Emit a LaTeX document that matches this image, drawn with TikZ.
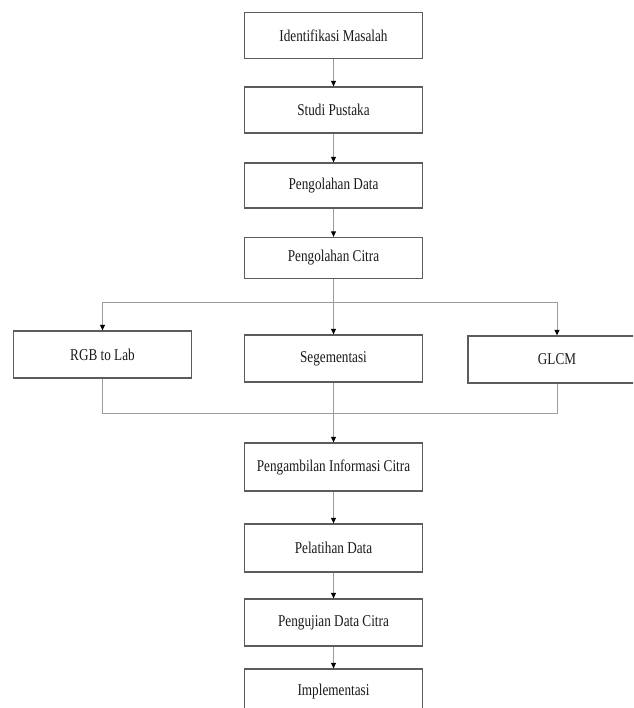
\documentclass[tikz,border=0pt]{standalone}
\usepackage{fontspec}
\setmainfont{Liberation Serif}[FakeStretch=0.8]
\usetikzlibrary{arrows.meta}
\definecolor{boxline}{HTML}{5C5C5C}
\definecolor{wire}{HTML}{9C9C9C}
\definecolor{ink}{HTML}{1A1A1A}
\begin{document}
\begin{tikzpicture}[x=1pt,y=-1pt,
  stepbox/.style={draw=boxline,line width=1.3pt,fill=white,
    minimum width=178pt,minimum height=46pt,inner sep=0pt,
    text=ink,font=\fontsize{16.5}{19}\selectfont},
  wireline/.style={draw=wire,line width=1pt},
  flow/.style={wireline,-{Triangle[length=5.5pt,width=5pt,color=black]}}]
\clip (0,0) rectangle (633,708);
\useasboundingbox (0,0) rectangle (633,708);
% main column
\node[stepbox] (idm) at (333.5,35.5) {Identifikasi Masalah};
\node[stepbox] (stp) at (333.5,110) {Studi Pustaka};
\node[stepbox,minimum height=45pt] (pgd) at (333.5,185.5) {Pengolahan Data};
\node[stepbox,minimum height=41pt] (pgc) at (333.5,258) {Pengolahan Citra};
% three parallel branches
\node[stepbox,minimum height=47pt] (rgb) at (102.5,354.5) {RGB to Lab};
\node[stepbox,minimum height=47pt] (seg) at (333.5,358.5) {Segementasi};
\node[stepbox,minimum height=47pt] (glc) at (557,359.5) {GLCM};
% lower column
\node[stepbox,minimum height=48pt] (pic) at (333.5,467) {Pengambilan Informasi Citra};
\node[stepbox,minimum height=48pt] (ptd) at (333.5,548) {Pelatihan Data};
\node[stepbox,minimum height=47pt] (pdc) at (333.5,622.5) {Pengujian Data Citra};
\node[stepbox] (imp) at (333.5,692) {Implementasi};
% straight links
\draw[flow] (idm) -- (stp);
\draw[flow] (stp) -- (pgd);
\draw[flow] (pgd) -- (pgc);
% split into branches
\coordinate (split) at (333.5,302);
\draw[wireline] (pgc.south) -- (split);
\draw[flow] (split) -| (rgb.north);
\draw[flow] (split) -- (seg.north);
\draw[flow] (split) -| (glc.north);
% join of branches
\coordinate (join) at (333.5,413.5);
\draw[wireline] (rgb.south) |- (join);
\draw[wireline] (glc.south) |- (join);
\draw[wireline] (seg.south) -- (join);
\draw[flow] (join) -- (pic.north);
\draw[flow] (pic) -- (ptd);
\draw[flow] (ptd) -- (pdc);
\draw[flow] (pdc) -- (imp);
\end{tikzpicture}
\end{document}
